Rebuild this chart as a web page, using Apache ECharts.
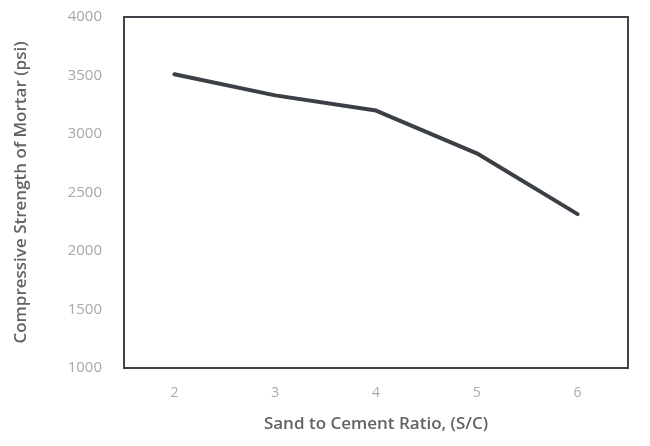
<!DOCTYPE html>
<html>
<head>
<meta charset="utf-8">
<script src="https://cdn.jsdelivr.net/npm/echarts@6/dist/echarts.min.js"></script>
<style>
  html, body { margin: 0; padding: 0; background: #fff; }
  #chart { width: 650px; height: 446px; }
</style>
</head>
<body>
<div id="chart"></div>
<script>
// sand to cement ratio
const ratios = ['2', '3', '4', '5', '6']
// compressive strength (psi)
const strength = [3510, 3330, 3200, 2835, 2315]

const chart = echarts.init(document.getElementById('chart'))
chart.setOption({
  animation: false,
  grid: {
    show: true,
    left: 124,
    right: 22,
    top: 17,
    bottom: 78,
    borderColor: '#3e434a',
    borderWidth: 2,
    backgroundColor: 'transparent'
  },
  xAxis: {
    type: 'category',
    data: ratios,
    boundaryGap: true,
    name: 'Sand to Cement Ratio, (S/C)',
    nameLocation: 'middle',
    nameGap: 48,
    nameTextStyle: {
      color: '#606368',
      fontSize: 17,
      fontWeight: 600,
      fontFamily: 'Open Sans'
    },
    axisLine: { show: false },
    axisTick: { show: false },
    axisLabel: {
      color: '#aaa',
      fontSize: 14,
      margin: 18,
      fontFamily: 'Open Sans'
    }
  },
  yAxis: {
    type: 'value',
    min: 1000,
    max: 4000,
    interval: 500,
    name: 'Compressive Strength of Mortar (psi)',
    nameLocation: 'middle',
    nameGap: 94,
    nameTextStyle: {
      color: '#606368',
      fontSize: 17,
      fontWeight: 600,
      fontFamily: 'Open Sans'
    },
    axisLine: { show: false },
    axisTick: { show: false },
    splitLine: { show: false },
    axisLabel: {
      color: '#a8a8a8',
      fontSize: 15,
      margin: 22,
      fontFamily: 'Open Sans',
      formatter: v => String(v)
    }
  },
  series: [
    {
      type: 'line',
      data: strength,
      symbol: 'none',
      lineStyle: { color: '#3b4046', width: 4, cap: 'round', join: 'round' }
    }
  ]
})
</script>
</body>
</html>
